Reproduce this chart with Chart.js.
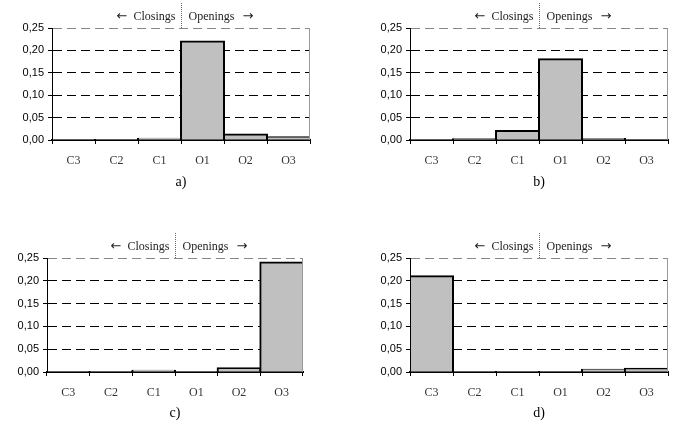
<!DOCTYPE html>
<html>
<head>
<meta charset="utf-8">
<script src="https://cdn.jsdelivr.net/npm/chart.js@4.4.0/dist/chart.umd.min.js"></script>
<style>
  body { margin: 0; background: #fff; }
  #wrap { position: relative; width: 678px; height: 431px; }
  canvas { position: absolute; }
</style>
</head>
<body>
<div id="wrap">
  <canvas id="pa" width="340" height="215" style="left:0;top:0"></canvas>
  <canvas id="pb" width="338" height="215" style="left:340px;top:0"></canvas>
  <canvas id="pc" width="340" height="216" style="left:0;top:215px"></canvas>
  <canvas id="pd" width="338" height="216" style="left:340px;top:215px"></canvas>
</div>
<script>
// categories and tick labels
var categories = ["C3", "C2", "C1", "O1", "O2", "O3"];
var yTicks = [0, 0.05, 0.10, 0.15, 0.20, 0.25];

// values per panel
var valuesA = [0.001, 0.001, 0.003, 0.22, 0.012, 0.006];
var valuesB = [0.0005, 0.0015, 0.02, 0.18, 0.002, 0.001];
var valuesC = [0.001, 0.001, 0.003, 0.001, 0.008, 0.24];
var valuesD = [0.21, 0.001, 0.001, 0.001, 0.005, 0.007];

// "← Closings | Openings →" header with dotted divider, plus right border
var headerPlugin = {
  id: 'header',
  afterDraw: function (chart) {
    var ctx = chart.ctx;
    var area = chart.chartArea;
    var xs = chart.scales.x;
    var midX = Math.round((xs.getPixelForValue(2) + xs.getPixelForValue(3)) / 2) + 0.5;
    var ty = area.top - 11;
    ctx.save();
    // right border of plot area
    ctx.strokeStyle = '#999';
    ctx.lineWidth = 1;
    ctx.beginPath();
    ctx.moveTo(Math.round(area.right) - 0.5, area.top);
    ctx.lineTo(Math.round(area.right) - 0.5, area.bottom);
    ctx.stroke();
    // dotted divider
    ctx.strokeStyle = '#666';
    ctx.setLineDash([1, 1]);
    ctx.beginPath();
    ctx.moveTo(midX, area.top - 25);
    ctx.lineTo(midX, area.top);
    ctx.stroke();
    ctx.setLineDash([]);
    // header text
    ctx.fillStyle = '#222';
    ctx.textBaseline = 'middle';
    ctx.font = '12px "Liberation Serif", serif';
    ctx.textAlign = 'right';
    ctx.fillText('Closings', midX - 6, ty);
    ctx.textAlign = 'left';
    ctx.fillText('Openings', midX + 7, ty);
    var wc = ctx.measureText('Closings').width;
    var wo = ctx.measureText('Openings').width;
    // arrows
    ctx.font = '13px "DejaVu Sans", sans-serif';
    ctx.textAlign = 'right';
    ctx.fillText('\u2190', midX - 6 - wc - 6, ty);
    ctx.textAlign = 'left';
    ctx.fillText('\u2192', midX + 7 + wo + 8, ty);
    ctx.restore();
  }
};

function makePanel(id, letter, values, box) {
  var canvas = document.getElementById(id);
  return new Chart(canvas.getContext('2d'), {
    type: 'bar',
    data: {
      labels: categories,
      datasets: [{
        data: values,
        backgroundColor: '#C0C0C0',
        borderColor: '#000',
        borderWidth: 2,
        inflateAmount: 1,
        barPercentage: 1,
        categoryPercentage: 1
      }]
    },
    options: {
      responsive: false,
      animation: false,
      layout: {
        padding: { left: 0, right: canvas.width - box.right, top: box.top, bottom: 0 }
      },
      plugins: {
        legend: { display: false },
        tooltip: { enabled: false }
      },
      scales: {
        x: {
          afterFit: function (scale) { scale.height = canvas.height - box.bottom; },
          grid: {
            drawOnChartArea: false,
            tickLength: 4,
            color: '#000'
          },
          border: { color: '#000', width: 2 },
          ticks: {
            color: '#333',
            padding: 10,
            font: { family: '"Liberation Serif", serif', size: 12 }
          },
          title: {
            display: true,
            text: letter + ')',
            color: '#000',
            font: { family: '"Liberation Serif", serif', size: 14 },
            padding: { top: 0, bottom: canvas.height - box.caption - 8 }
          }
        },
        y: {
          min: 0,
          max: 0.25,
          afterFit: function (scale) { scale.width = box.left; },
          afterBuildTicks: function (scale) {
            scale.ticks = yTicks.map(function (v) { return { value: v }; });
          },
          grid: {
            tickLength: 4,
            tickColor: '#000',
            tickBorderDash: [],
            color: function (c) {
              if (c.tick.value === 0) return 'rgba(0,0,0,0)';
              if (c.tick.value >= 0.25) return '#888';
              return '#000';
            }
          },
          border: { color: '#000', width: 1, dash: [9, 5] },
          ticks: {
            color: '#000',
            padding: 4,
            font: { family: '"Liberation Sans", Arial, sans-serif', size: 11 },
            callback: function (v) { return Number(v).toFixed(2).replace('.', ','); }
          }
        }
      }
    },
    plugins: [headerPlugin]
  });
}

makePanel('pa', 'a', valuesA, { left: 52, right: 310, top: 28, bottom: 140, caption: 183 });
makePanel('pb', 'b', valuesB, { left: 70, right: 328, top: 28, bottom: 140, caption: 183 });
makePanel('pc', 'c', valuesC, { left: 47, right: 303, top: 43, bottom: 157, caption: 199 });
makePanel('pd', 'd', valuesD, { left: 70, right: 328, top: 43, bottom: 157, caption: 199 });
</script>
</body>
</html>
